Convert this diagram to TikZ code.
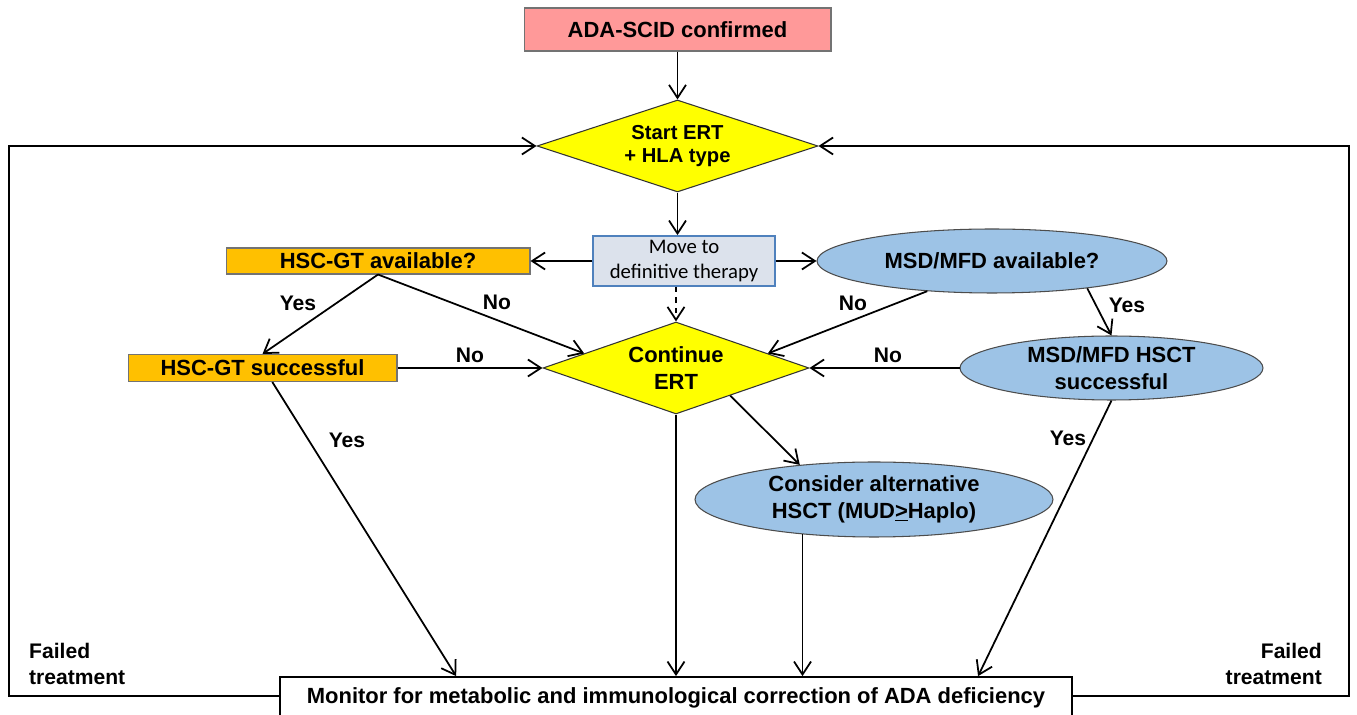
\documentclass[tikz,border=0pt]{standalone}
\usepackage{fontspec}
\setmainfont{Liberation Sans}
\newfontfamily\calibfont{Carlito}
\usetikzlibrary{shapes.geometric,arrows.meta}

\definecolor{adapink}{HTML}{FF9999}
\definecolor{ertyellow}{HTML}{FFFF00}
\definecolor{gtorange}{HTML}{FFC000}
\definecolor{hsctblue}{HTML}{9DC3E6}
\definecolor{movefill}{HTML}{DCE2EC}
\definecolor{moveedge}{HTML}{4F81BD}

\begin{document}
\begin{tikzpicture}[x=0.02cm,y=-0.02cm,
  txt/.style={font=\fontsize{12.5}{15}\selectfont\bfseries},
  lbl/.style={font=\fontsize{12}{15}\selectfont\bfseries},
  box/.style={txt,draw=gray!90!black,line width=0.6pt,inner sep=0pt,align=center},
  dia/.style={txt,diamond,aspect=2.9,draw=black!80,fill=ertyellow,line width=0.6pt,inner sep=0pt,align=center},
  ell/.style={txt,ellipse,draw=black!70,fill=hsctblue,line width=0.6pt,inner sep=0pt,align=center},
  arr/.style={-{Straight Barb[length=2.6mm,width=3.4mm,line width=1pt]},line width=1pt}]
\useasboundingbox (0,0) rectangle (1357,715);

% boxes
\node[box,fill=adapink,minimum width=6.14cm,minimum height=0.86cm] (ada) at (677.5,29.5) {ADA-SCID confirmed};
\node[dia,font=\fontsize{11.5}{13}\selectfont\bfseries,minimum width=5.62cm,minimum height=1.84cm] (start) at (677.5,146) {Start ERT\\+ HLA type};
\node[draw=moveedge,fill=movefill,line width=1pt,inner sep=0pt,align=center,minimum width=3.64cm,minimum height=1.0cm,
  font=\calibfont\fontsize{11.8}{14.2}\selectfont] (move) at (684,261) {Move to\\definitive therapy};
\node[box,fill=gtorange,minimum width=6.08cm,minimum height=0.52cm] (hscav) at (378,261) {HSC-GT available?};
\node[ell,minimum width=7.0cm,minimum height=1.28cm] (msdav) at (992,261) {MSD/MFD available?};
\node[dia,minimum width=5.32cm,minimum height=1.84cm] (cont) at (676,368) {Continue\\ERT};
\node[box,fill=gtorange,minimum width=5.38cm,minimum height=0.54cm] (hscsuc) at (262.5,368) {HSC-GT successful};
\node[ell,minimum width=6.06cm,minimum height=1.28cm] (msdhsct) at (1111.5,368) {MSD/MFD HSCT\\successful};
\node[ell,minimum width=7.16cm,minimum height=1.5cm] (alt) at (874,499.5) {Consider alternative\\HSCT (MUD\underline{>}Haplo)};
\node[box,draw=black,line width=1pt,minimum width=15.84cm,minimum height=0.84cm] (monitor) at (676,698) {Monitor for metabolic and immunological correction of ADA deficiency};

% loops
\coordinate (lfail) at (9,696);
\coordinate (rfail) at (1349,696);
\draw[arr] (lfail -| monitor.west) -- (lfail) |- (start.west);
\draw[arr] (rfail -| monitor.east) -- (rfail) |- (start.east);
\node[lbl,align=left,anchor=west] (lfailtxt) at (23,664) {Failed\\treatment};
\node[lbl,align=right,anchor=east] (rfailtxt) at (1328,664) {Failed\\treatment};

% arrows
\draw[arr] (ada.south) -- (start.north);
\draw[arr] (start.south) -- (start.south |- move.north);
\draw[arr] (move.west) -- (hscav.east);
\draw[arr] (move.east) -- (msdav.west);
\draw[arr,dashed] (move.south -| cont.north) -- (cont.north);
\draw[arr] (hscav.south) -- (hscsuc.north);
\draw[arr] (hscav.south) -- (cont.171);
\draw[arr] (hscsuc.east) -- (cont.west);
\draw[arr] (msdav.205) -- (cont.9);
\draw[arr] (msdav.344) -- (msdhsct.north);
\draw[arr] (msdhsct.west) -- (cont.east);
\draw[arr] (cont.-27) -- (alt.155);
\draw[arr] (cont.south) -- (cont.south |- monitor.north);
\draw[arr] (alt.206) -- (alt.206 |- monitor.north);
\draw[arr] (hscsuc.-55) -- ([xshift=3.54cm]monitor.north west);
\draw[arr] (msdhsct.south) -- ([xshift=13.98cm]monitor.north west);

% labels
\node[lbl] (yes1) at (298,303) {Yes};
\node[lbl] (no1) at (497,302) {No};
\node[lbl] (no2) at (470,355) {No};
\node[lbl] (yes2) at (347,440) {Yes};
\node[lbl] (no3) at (853,303) {No};
\node[lbl] (yes3) at (1127,305) {Yes};
\node[lbl] (no4) at (888,355) {No};
\node[lbl] (yes4) at (1068,438) {Yes};
\end{tikzpicture}
\end{document}
